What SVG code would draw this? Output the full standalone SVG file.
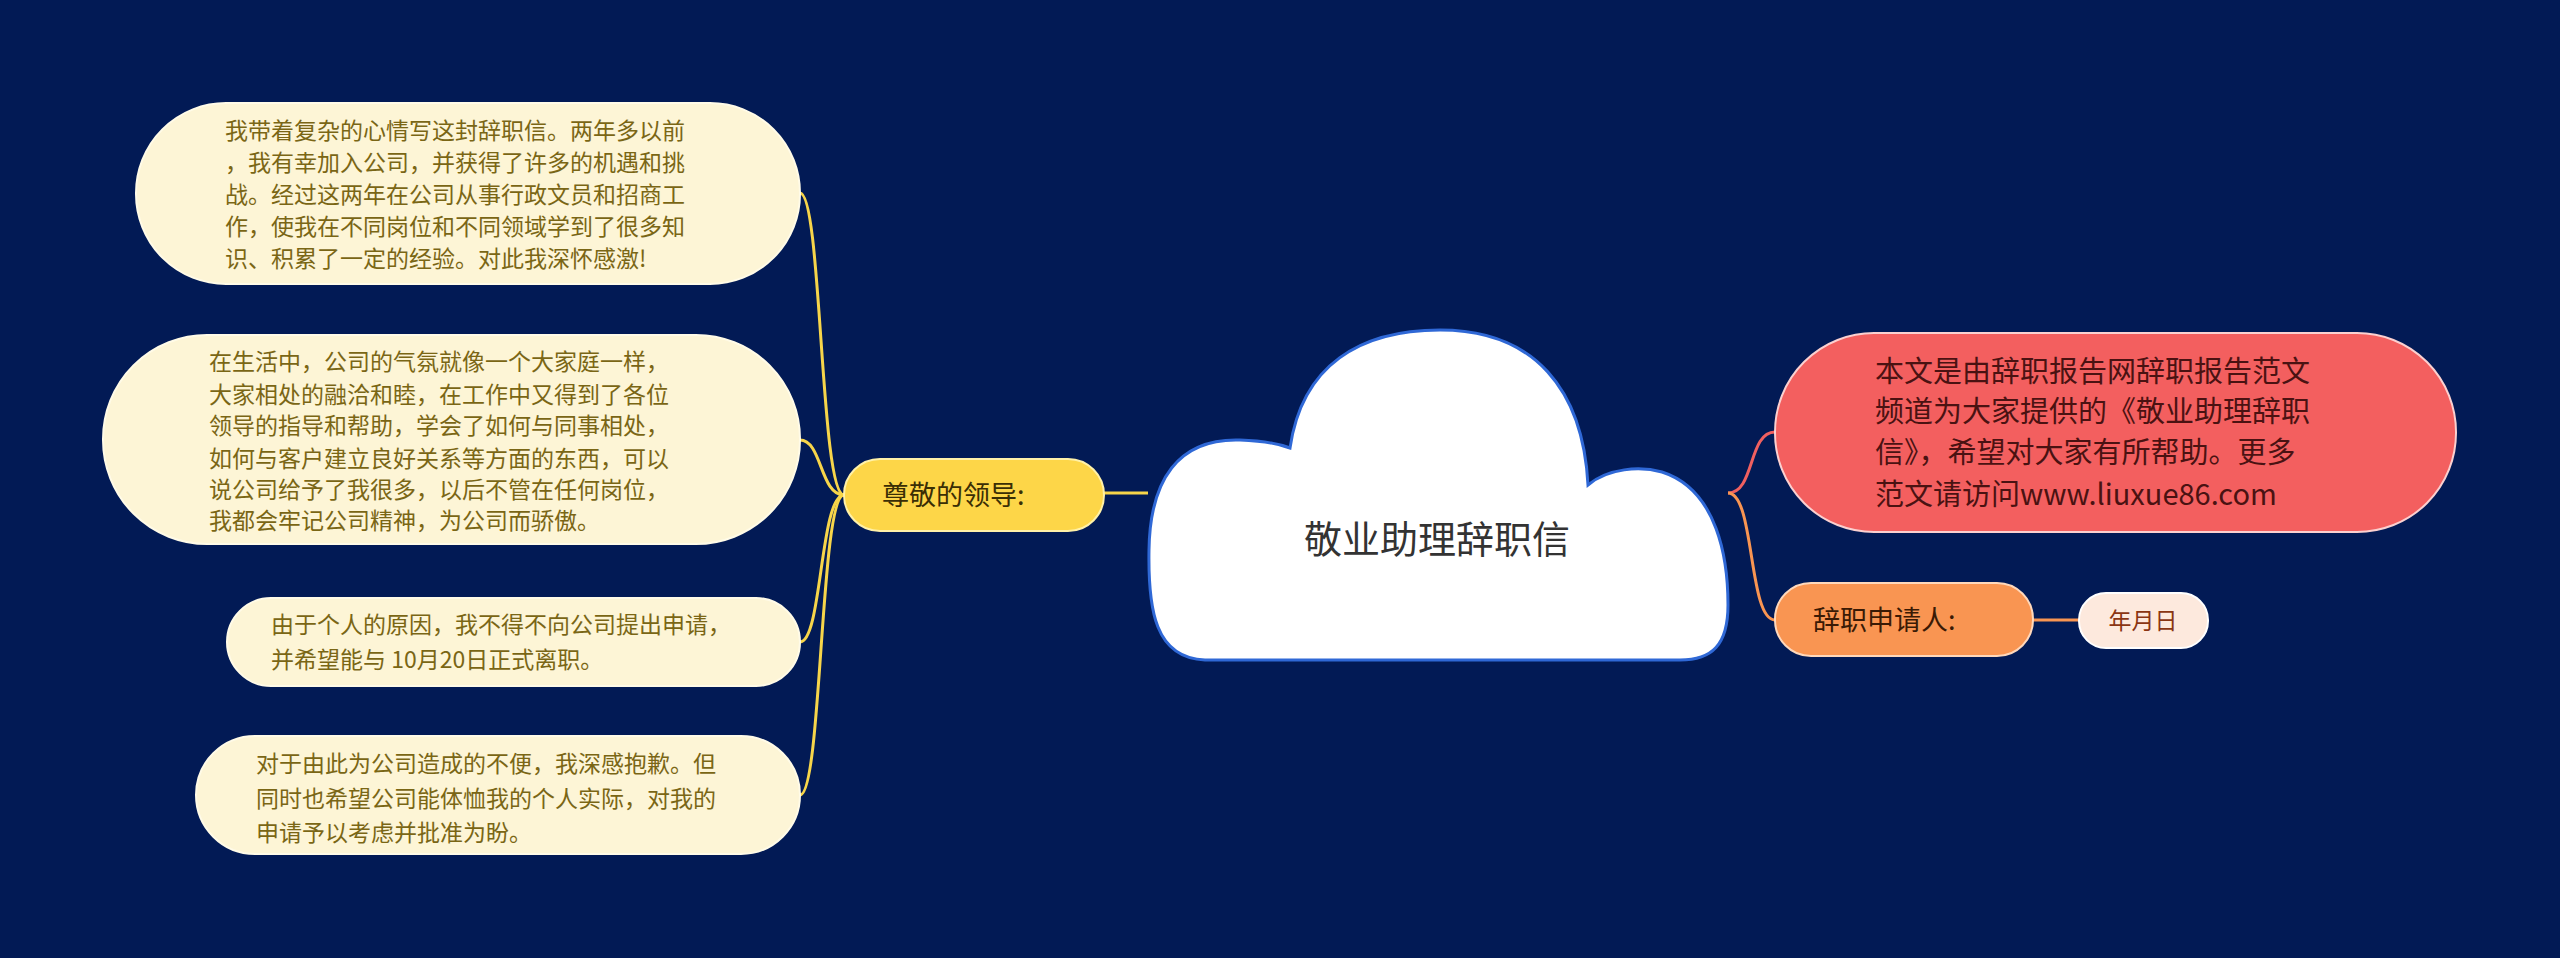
<svg xmlns="http://www.w3.org/2000/svg" width="2560" height="958" viewBox="0 0 2560 958">
<style>
text{font-family:"Noto Sans CJK SC","Noto Sans",sans-serif}
.lt{fill:#fdf5d6;stroke:#fffbe8;stroke-width:2}
.lx{font-size:23px;fill:#7a6615}
.c{fill:none;stroke-width:3}
</style>
<rect width="2560" height="958" fill="#021a55"/>
<g id="connectors">
<path class="c" stroke="#f7d54a" d="M1104 493 H1148"/>
<path class="c" stroke="#f7d54a" d="M844 495 C820 495 822 193 800 193"/>
<path class="c" stroke="#f7d54a" d="M844 495 C820 495 822 440 800 440"/>
<path class="c" stroke="#f7d54a" d="M844 495 C820 495 822 642 800 642"/>
<path class="c" stroke="#f7d54a" d="M844 495 C820 495 822 795 800 795"/>
<path class="c" stroke="#f06060" d="M1728 493 C1755 493 1748 432 1775 432"/>
<path class="c" stroke="#f99552" d="M1728 493 C1755 493 1748 620 1775 620"/>
<path class="c" stroke="#f99552" d="M2033 620 H2079"/>
</g>
<g id="n1"><rect class="lt" x="136" y="103" width="664" height="181" rx="90"/>
<text class="lx"><tspan x="225" y="139">我带着复杂的心情写这封辞职信。两年多以前</tspan><tspan x="225" y="171">，我有幸加入公司，并获得了许多的机遇和挑</tspan><tspan x="225" y="203">战。经过这两年在公司从事行政文员和招商工</tspan><tspan x="225" y="235">作，使我在不同岗位和不同领域学到了很多知</tspan><tspan x="225" y="267">识、积累了一定的经验。对此我深怀感激!</tspan></text></g>
<g id="n2"><rect class="lt" x="103" y="335" width="697" height="209" rx="104"/>
<text class="lx"><tspan x="209" y="370">在生活中，公司的气氛就像一个大家庭一样，</tspan><tspan x="209" y="403">大家相处的融洽和睦，在工作中又得到了各位</tspan><tspan x="209" y="434">领导的指导和帮助，学会了如何与同事相处，</tspan><tspan x="209" y="467">如何与客户建立良好关系等方面的东西，可以</tspan><tspan x="209" y="498">说公司给予了我很多，以后不管在任何岗位，</tspan><tspan x="209" y="529">我都会牢记公司精神，为公司而骄傲。</tspan></text></g>
<g id="n3"><rect class="lt" x="227" y="598" width="573" height="88" rx="44"/>
<text class="lx"><tspan x="271" y="633">由于个人的原因，我不得不向公司提出申请，</tspan><tspan x="271" y="668">并希望能与 10月20日正式离职。</tspan></text></g>
<g id="n4"><rect class="lt" x="196" y="736" width="604" height="118" rx="59"/>
<text class="lx"><tspan x="256" y="772">对于由此为公司造成的不便，我深感抱歉。但</tspan><tspan x="256" y="807">同时也希望公司能体恤我的个人实际，对我的</tspan><tspan x="256" y="841">申请予以考虑并批准为盼。</tspan></text></g>
<g id="leader"><rect x="844" y="459" width="260" height="72" rx="36" fill="#fdd648" stroke="#fff1a8" stroke-width="2"/>
<text x="882" y="505" font-size="27" fill="#3a2e05">尊敬的领导:</text></g>
<g id="root"><path d="M1205 660 C1155 658 1148 610 1149 550 C1150 480 1178 438 1240 440 C1268 441 1282 445 1290 448 C1302 365 1360 330 1440 330 C1535 330 1583 390 1588 485 C1608 468 1640 466 1662 472 C1718 490 1728 560 1728 605 C1728 645 1712 660 1680 660 Z" fill="#fff" stroke="#2f68d6" stroke-width="3"/>
<text x="1437" y="553" font-size="38" text-anchor="middle" fill="#333">敬业助理辞职信</text></g>
<g id="red"><rect x="1775" y="333" width="681" height="199" rx="99" fill="#f35f5f" stroke="#fbd0d0" stroke-width="2"/>
<text font-size="29" fill="#4a1212"><tspan x="1875" y="382">本文是由辞职报告网辞职报告范文</tspan><tspan x="1875" y="422">频道为大家提供的《敬业助理辞职</tspan><tspan x="1875" y="463">信》，希望对大家有所帮助。更多</tspan><tspan x="1875" y="505">范文请访问www.liuxue86.com</tspan></text></g>
<g id="sign"><rect x="1775" y="583" width="258" height="73" rx="36" fill="#f99552" stroke="#ffd8bb" stroke-width="2"/>
<text x="1813" y="630" font-size="27" fill="#3a1a05">辞职申请人:</text></g>
<g id="date"><rect x="2079" y="593" width="129" height="55" rx="27" fill="#fde9dd" stroke="#fff" stroke-width="2"/>
<text x="2143" y="629" font-size="23" text-anchor="middle" fill="#8a3512">年月日</text></g>
</svg>
